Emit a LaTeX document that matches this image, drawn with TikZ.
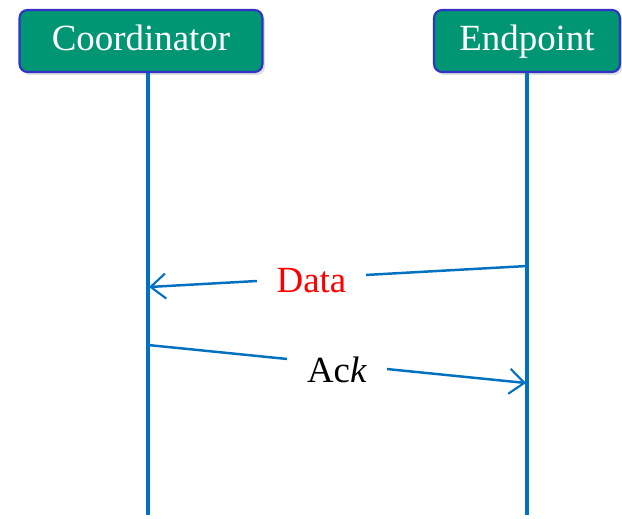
\documentclass[tikz,border=0pt]{standalone}
\usepackage{fontspec}
\setmainfont{Liberation Serif}
\usetikzlibrary{arrows.meta, positioning, shadows}
\definecolor{boxgreen}{RGB}{0,150,115}
\definecolor{boxblue}{RGB}{50,50,200}
\definecolor{lineblue}{RGB}{0,112,192}
\begin{document}
\begin{tikzpicture}[x=0.02cm, y=-0.02cm,
        actor/.style={rectangle, rounded corners=0.16cm, draw=boxblue, line width=1.2pt, fill=boxgreen, text=white, minimum height=1.24cm, text height=14pt, text depth=3pt, font=\fontsize{21}{25}\selectfont, drop shadow={opacity=0.25, shadow xshift=0.05cm, shadow yshift=-0.06cm}},
        lifeline/.style={draw=lineblue, line width=2.3pt},
        msg/.style={draw=lineblue, line width=1.4pt, -{Straight Barb[length=0.3cm, width=0.5cm, line width=1.2pt]}},
        lbl/.style={fill=white, inner xsep=0.4cm, inner ysep=0.05cm, font=\fontsize{21}{25}\selectfont}]
        \useasboundingbox (0,0) rectangle (622,518);
        \node[actor, minimum width=4.86cm] (coord) at (141,41) {Coordinator};
        \node[actor, minimum width=3.72cm] (endp) at (527,41) {Endpoint};
        \coordinate (cBot) at (148,515);
        \coordinate (eBot) at (527,515);
        \draw[lifeline] (coord.south -| cBot) -- (cBot);
        \draw[lifeline] (endp.south) -- (eBot);
        % messages
        \coordinate (dataFrom) at (527,266);
        \coordinate (dataTo) at (149,287);
        \coordinate (ackFrom) at (148,345);
        \coordinate (ackTo) at (526,383);
        \draw[msg] (dataFrom) -- node[lbl, pos=0.57, text=red, yshift=-0.06cm] (data) {Data} (dataTo);
        \draw[msg] (ackFrom) -- node[lbl, yshift=-0.12cm] (ack) {Ac\textit{k}} (ackTo);
    \end{tikzpicture}
\end{document}
